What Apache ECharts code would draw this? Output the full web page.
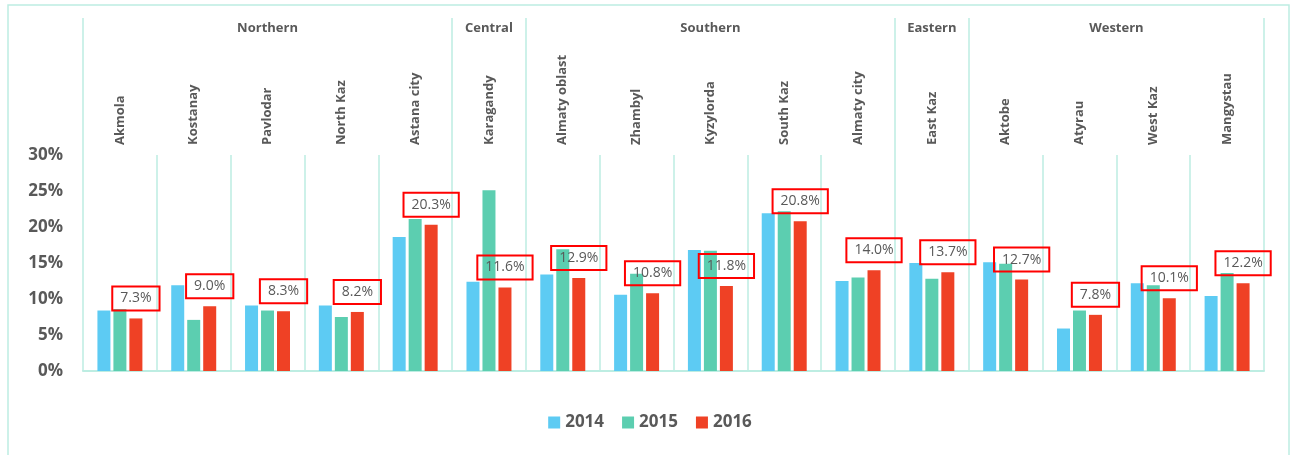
<!DOCTYPE html>
<html>
<head>
<meta charset="utf-8">
<script src="https://cdn.jsdelivr.net/npm/echarts@6/dist/echarts.min.js"></script>
<style>
  html, body { margin: 0; padding: 0; background: #fff; }
  #chart { width: 1300px; height: 455px; }
</style>
</head>
<body>
<div id="chart"></div>
<script>
// regions, in order, with how many oblasts each one spans
const regions = ['Northern', 'Central', 'Southern', 'Eastern', 'Western'];
const regionSizes = [5, 1, 5, 1, 4];

const categories = ['Akmola', 'Kostanay', 'Pavlodar', 'North Kaz', 'Astana city',
  'Karagandy', 'Almaty oblast', 'Zhambyl', 'Kyzylorda', 'South Kaz', 'Almaty city',
  'East Kaz', 'Aktobe', 'Atyrau', 'West Kaz', 'Mangystau'];

// shares in %
const v2014 = [8.4, 11.9, 9.1, 9.1, 18.6, 12.4, 13.4, 10.6, 16.8, 21.9, 12.5, 15.0, 15.1, 5.9, 12.2, 10.4];
const v2015 = [8.6, 7.1, 8.4, 7.5, 21.1, 25.1, 16.9, 13.5, 16.7, 22.2, 13.0, 12.8, 14.9, 8.4, 11.9, 13.6];
const v2016 = [7.3, 9.0, 8.3, 8.2, 20.3, 11.6, 12.9, 10.8, 11.8, 20.8, 14.0, 13.7, 12.7, 7.8, 10.1, 12.2];

const years = ['2014', '2015', '2016'];

// region boundaries and centres on a 0..16 scale
const bounds = [0];
const centres = {};
regionSizes.forEach((n, i) => {
  const start = bounds[bounds.length - 1];
  bounds.push(start + n);
  centres[start + n / 2] = regions[i];
});

const lineColor = '#BDEDE2';
const textColor = '#595959';
const font = 'Open Sans';

const chart = echarts.init(document.getElementById('chart'));
chart.setOption({
  animation: false,
  textStyle: { fontFamily: font },
  color: ['#5DCBF3', '#5CCEB0', '#EF4125'],
  graphic: [{
    type: 'rect',
    shape: { x: 8, y: 5, width: 1281, height: 470 },
    style: { fill: 'none', stroke: lineColor, lineWidth: 1.5 },
    silent: true
  }],
  grid: { left: 83, right: 36, top: 155, bottom: 84 },
  legend: {
    data: years,
    bottom: 19,
    left: 'center',
    icon: 'rect',
    itemWidth: 12,
    itemHeight: 12,
    itemGap: 18,
    textStyle: { fontSize: 17, fontWeight: 'bold', color: textColor, fontFamily: font }
  },
  xAxis: [
    {
      type: 'category',
      data: categories,
      position: 'bottom',
      axisLine: { lineStyle: { color: lineColor, width: 2 } },
      axisTick: { show: false },
      axisLabel: { show: false },
      splitLine: { show: true, interval: 0, lineStyle: { color: lineColor, width: 1.5 } }
    },
    {
      type: 'category',
      data: categories,
      position: 'top',
      axisLine: { show: false },
      axisTick: { show: false },
      axisLabel: {
        rotate: -90,
        interval: 0,
        margin: 10,
        fontSize: 13,
        fontWeight: 'bold',
        color: textColor,
        fontFamily: font
      }
    },
    {
      type: 'value',
      position: 'top',
      min: 0,
      max: categories.length,
      axisLine: { show: false },
      splitLine: { show: false },
      axisTick: {
        show: true,
        customValues: bounds,
        length: 137,
        lineStyle: { color: lineColor, width: 1.5 }
      },
      axisLabel: {
        customValues: Object.keys(centres).map(Number),
        formatter: v => centres[v] || '',
        margin: 120,
        fontSize: 13,
        fontWeight: 'bold',
        color: textColor,
        fontFamily: font
      }
    }
  ],
  yAxis: {
    type: 'value',
    min: 0,
    max: 30,
    interval: 5,
    axisLine: { show: false },
    axisTick: { show: false },
    splitLine: { show: false },
    axisLabel: {
      formatter: '{value}%',
      margin: 20,
      fontSize: 17,
      fontWeight: 'bold',
      color: textColor,
      fontFamily: font
    }
  },
  series: [
    { name: '2014', type: 'bar', data: v2014, barWidth: 13, barGap: '23%' },
    { name: '2015', type: 'bar', data: v2015, barWidth: 13, barGap: '23%' },
    {
      name: '2016', type: 'bar', data: v2016, barWidth: 13, barGap: '23%',
      label: {
        show: true,
        position: 'top',
        distance: 8,
        formatter: p => p.value.toFixed(1) + '%',
        fontSize: 14,
        color: textColor,
        fontFamily: font,
        borderColor: '#FF0000',
        borderWidth: 2,
        padding: [5, 8]
      }
    }
  ]
});
</script>
</body>
</html>
